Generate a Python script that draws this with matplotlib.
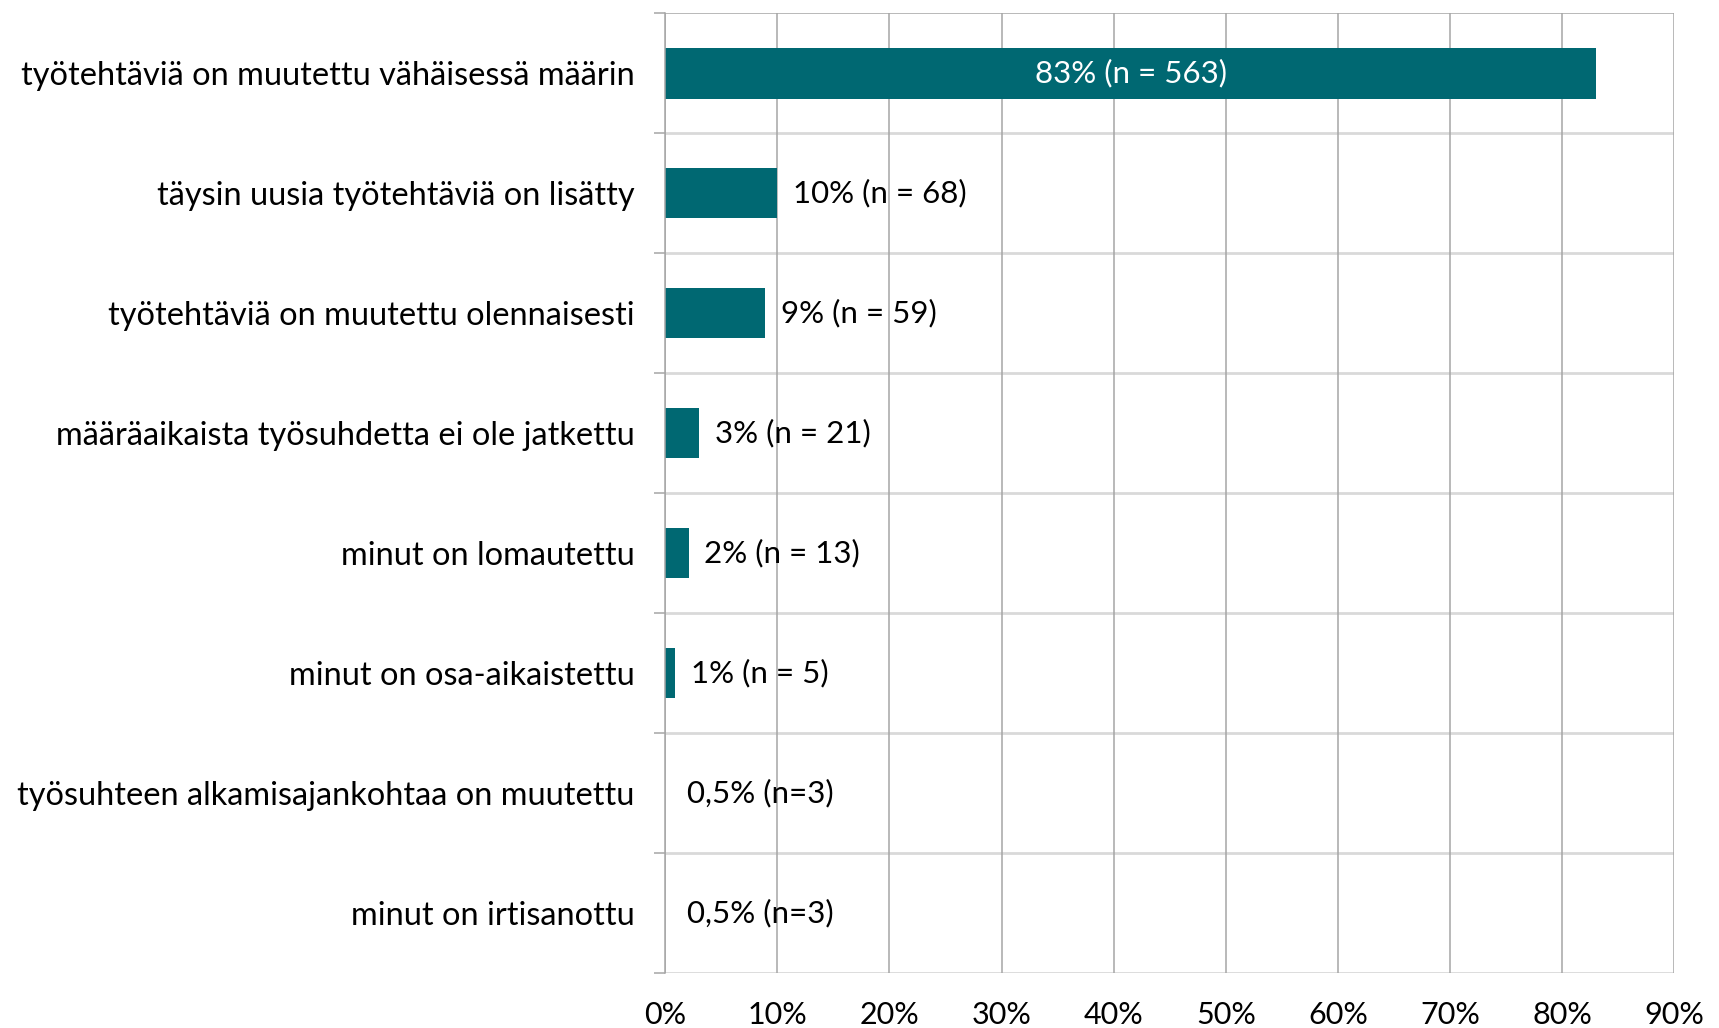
import matplotlib.pyplot as plt
import numpy as np

plt.rcParams['font.family'] = ['Lato', 'DejaVu Sans']

categories = ["työtehtäviä on muutettu vähäisessä määrin",
              "täysin uusia työtehtäviä on lisätty",
              "työtehtäviä on muutettu olennaisesti",
              "määräaikaista työsuhdetta ei ole jatkettu",
              "minut on lomautettu",
              "minut on osa-aikaistettu",
              "työsuhteen alkamisajankohtaa on muutettu",
              "minut on irtisanottu"]
# bar lengths as drawn (the last two show no visible bar)
values = [83, 10, 8.9, 3, 2.1, 0.9, 0, 0]
labels = ["83% (n = 563)", "10% (n = 68)", "9% (n = 59)", "3% (n = 21)",
          "2% (n = 13)", "1% (n = 5)", "0,5% (n=3)", "0,5% (n=3)"]
xticks = list(range(0, 91, 10))

teal = "#006872"
grid_dark = "#a6a6a6"
grid_light = "#d9d9d9"

fig = plt.figure(figsize=(17.19, 10.28), dpi=100)
ax = fig.add_axes([0.387, 0.0535, 0.587, 0.9335])

y = np.arange(len(categories))
ax.barh(y, values, height=0.42, color=teal, zorder=3)

ax.set_xlim(0, 90)
ax.set_ylim(len(categories) - 0.5, -0.5)

ax.set_xticks(xticks)
ax.set_xticklabels([f"{t}%" for t in xticks], fontsize=22)
ax.tick_params(axis='x', length=0, pad=20)
ax.xaxis.grid(True, color=grid_dark, lw=1.1, zorder=1)

ax.set_yticks(y)
ax.set_yticklabels(categories, fontsize=23.4)
ax.tick_params(axis='y', which='major', length=0, pad=22)
ax.set_yticks(np.arange(len(categories) + 1) - 0.5, minor=True)
ax.tick_params(axis='y', which='minor', length=8, width=1.1, color=grid_dark)

for b in np.arange(1, len(categories) + 1) - 0.5:
    ax.axhline(b, color=grid_light, lw=2, zorder=1)
ax.axhline(-0.5, color=grid_dark, lw=1.1, zorder=1)

for s in ['top', 'right', 'bottom']:
    ax.spines[s].set_visible(False)
ax.spines['left'].set_color(grid_dark)
ax.spines['left'].set_linewidth(1.1)
ax.spines['left'].set_zorder(4)

for i, (v, lab) in enumerate(zip(values, labels)):
    if v > 50:
        ax.text(v / 2, i, lab, color="white", fontsize=22.5,
                ha='center', va='center', zorder=5)
    else:
        ax.text(max(v, 0.5) + 1.4, i, lab, color="black", fontsize=22.5,
                ha='left', va='center', zorder=5)

fig.savefig("out.png", dpi=100)
